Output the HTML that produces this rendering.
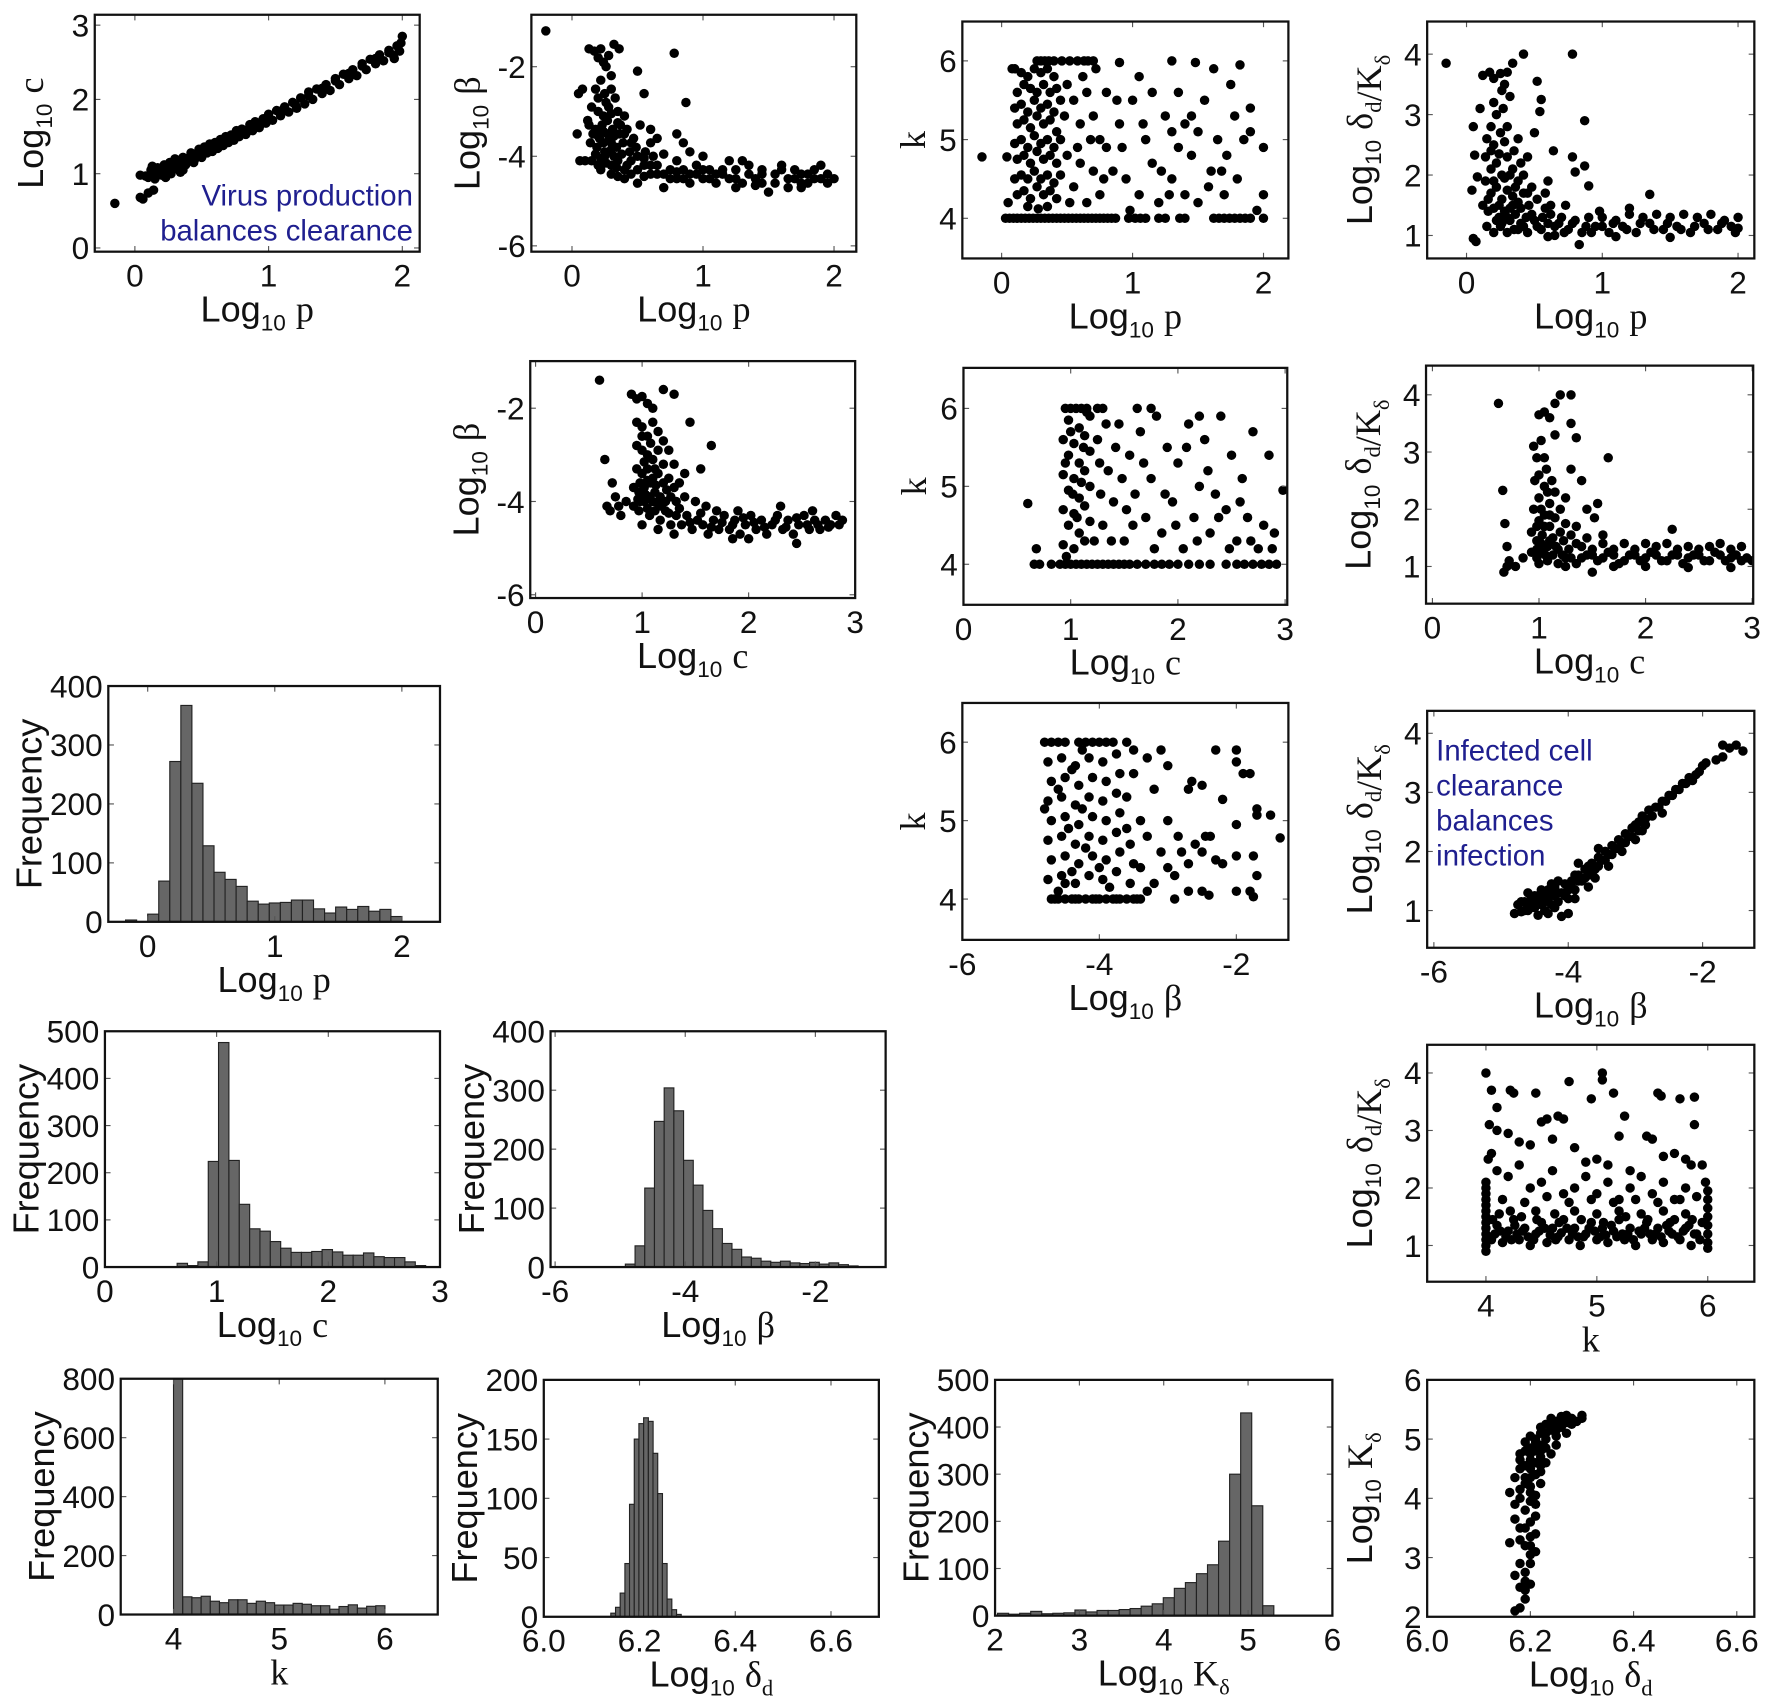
<!DOCTYPE html>
<html><head><meta charset="utf-8"><title>Parameter correlations</title>
<style>
html,body{margin:0;padding:0;background:#fff;}
svg{display:block;}
text{font-family:"Liberation Sans",sans-serif;fill:#111;}
</style></head>
<body>
<svg id="fig" xmlns="http://www.w3.org/2000/svg" width="1769" height="1706" viewBox="0 0 1568 1512"></svg>
<script>
// ---------- histogram data ----------
const h1Start = -0.174, h1Width = 0.087;
const h1Counts = [3,0,13,69,272,367,235,129,84,72,60,35,30,32,33,37,37,22,15,25,21,26,18,21,9];
const h2Start = 0.554, h2Width = 0.0927;
const h2Counts = [1,8,3,11,224,476,226,133,81,76,54,40,31,31,33,37,32,25,25,30,22,20,20,11,3];
const h3Start = -4.92, h3Width = 0.149;
const h3Counts = [5,36,134,247,304,265,181,139,96,65,40,30,17,15,10,8,10,7,6,8,5,7,4,2];
const h4Start = 4.0, h4Width = 0.087;
const h4Counts = [1000,60,57,62,45,40,50,50,38,45,40,32,32,38,35,30,30,18,27,33,22,28,30];
const h5Start = 6.14, h5Width = 0.0098;
const h5Counts = [3,8,20,45,95,150,163,168,165,138,104,45,15,6,2];
const h6Start = 2.03, h6Width = 0.131;
const h6Counts = [5,3,5,9,4,5,6,12,8,11,11,13,15,20,25,38,58,70,89,108,158,300,430,233,21];

// ---------- scatter data ----------
const s1 = [[-0.15,0.6],[0.04,0.68],[0.06,0.66],[0.1,0.74],[0.14,0.78],[0.04,0.98],[0.08,0.97],[0.1,0.95],[0.12,1.05],[0.15,0.93],[0.17,1.08],[0.2,0.98],[0.22,1.12],[0.24,1.0],[0.26,1.15],[0.28,1.05],[0.3,1.2],[0.32,1.08],[0.34,1.02],[0.36,1.22],[0.38,1.12],[0.4,1.18],[0.42,1.28],[0.44,1.15],[0.46,1.25],[0.48,1.33],[0.5,1.22],[0.52,1.36],[0.54,1.28],[0.56,1.4],[0.58,1.3],[0.6,1.42],[0.62,1.34],[0.64,1.46],[0.66,1.38],[0.68,1.5],[0.7,1.42],[0.72,1.52],[0.74,1.45],[0.76,1.58],[0.78,1.5],[0.8,1.6],[0.83,1.53],[0.86,1.66],[0.88,1.58],[0.9,1.7],[0.93,1.62],[0.96,1.74],[0.98,1.68],[1.0,1.8],[1.03,1.72],[1.06,1.85],[1.09,1.78],[1.12,1.9],[1.15,1.83],[1.18,1.96],[1.21,1.88],[1.24,2.02],[1.27,1.94],[1.3,2.1],[1.33,2.0],[1.36,2.14],[1.4,2.08],[1.43,2.2],[1.46,2.12],[1.5,2.28],[1.53,2.2],[1.56,2.34],[1.6,2.28],[1.63,2.4],[1.66,2.32],[1.7,2.48],[1.73,2.4],[1.76,2.54],[1.8,2.48],[1.83,2.6],[1.86,2.52],[1.9,2.66],[1.93,2.6],[1.96,2.72],[1.98,2.65],[2.0,2.85],[1.99,2.76],[1.94,2.55],[0.15,1.0],[0.18,1.02],[0.2,1.06],[0.25,1.08],[0.27,1.0],[0.3,1.12],[0.33,1.15],[0.35,1.1],[0.38,1.2],[0.41,1.22],[0.45,1.2],[0.5,1.3],[0.55,1.33],[0.6,1.37],[0.65,1.42],[0.7,1.47],[0.75,1.5],[0.8,1.55],[0.85,1.6],[0.9,1.65],[0.95,1.7],[1.0,1.75],[1.1,1.85],[1.2,1.93],[1.3,2.05],[1.4,2.15],[1.5,2.25],[1.6,2.35],[1.7,2.45],[1.8,2.55],[1.9,2.63],[0.23,0.95],[0.13,1.1],[0.36,1.05]];
const s2base = [[-0.2,-1.2],[0.05,-2.6],[0.08,-2.5],[0.04,-3.5],[0.06,-4.1],[0.1,-4.1],[0.12,-3.2],[0.13,-1.6],[0.17,-1.65],[0.2,-1.8],[0.22,-1.6],[0.24,-1.9],[0.26,-2.0],[0.28,-1.75],[0.32,-1.5],[0.36,-1.6],[0.78,-1.7],[0.87,-2.8],[0.5,-2.1],[0.55,-2.6],[0.3,-2.2],[0.22,-2.3],[0.18,-2.5],[0.25,-2.6],[0.33,-2.7],[0.15,-2.9],[0.2,-3.0],[0.28,-2.9],[0.35,-3.0],[0.4,-3.1],[0.13,-3.3],[0.18,-3.4],[0.23,-3.3],[0.27,-3.5],[0.31,-3.4],[0.36,-3.5],[0.42,-3.4],[0.47,-3.6],[0.52,-3.3],[0.6,-3.4],[0.65,-3.6],[0.8,-3.5],[0.85,-3.7],[0.14,-3.7],[0.19,-3.8],[0.24,-3.7],[0.29,-3.9],[0.34,-3.8],[0.39,-3.7],[0.44,-3.9],[0.49,-3.8],[0.56,-3.9],[0.62,-4.0],[0.7,-3.95],[0.9,-3.9],[0.15,-4.1],[0.2,-4.2],[0.25,-4.0],[0.3,-4.2],[0.35,-4.1],[0.4,-4.3],[0.45,-4.1],[0.5,-4.3],[0.55,-4.2],[0.6,-4.4],[0.65,-4.2],[0.7,-4.4],[0.75,-4.3],[0.8,-4.5],[0.85,-4.3],[0.9,-4.4],[0.95,-4.2],[1.0,-4.5],[1.05,-4.3],[1.1,-4.6],[1.15,-4.4],[1.2,-4.5],[1.25,-4.3],[1.3,-4.6],[1.35,-4.2],[1.4,-4.5],[1.45,-4.4],[1.5,-4.8],[1.55,-4.6],[1.6,-4.3],[1.65,-4.7],[1.7,-4.5],[1.75,-4.4],[1.8,-4.6],[1.85,-4.3],[1.9,-4.5],[1.95,-4.6],[2.0,-4.5],[1.3,-4.1],[1.6,-4.2],[1.9,-4.2],[1.2,-4.1],[0.5,-4.6],[0.7,-4.7],[0.9,-4.6],[1.0,-4.0],[0.3,-4.4],[0.4,-4.5],[0.22,-4.3],[0.27,-3.2],[0.21,-3.6],[0.3,-3.7],[0.37,-3.3],[0.25,-3.9],[0.32,-4.0],[0.45,-4.4],[1.25,-4.7],[1.75,-4.7],[1.45,-4.6],[1.1,-4.4],[0.8,-4.1],[0.6,-3.7]];
const s2extra = [[0.16,-3.5],[0.2,-3.55],[0.24,-3.45],[0.28,-3.65],[0.32,-3.55],[0.18,-3.95],[0.22,-4.05],[0.26,-4.15],[0.3,-3.85],[0.34,-4.25],[0.38,-3.95],[0.42,-4.2],[0.2,-2.7],[0.26,-2.8],[0.3,-2.5],[0.24,-3.1],[0.3,-3.05],[0.35,-3.25],[0.4,-3.5],[0.45,-3.7],[0.5,-4.0],[0.55,-4.05],[0.6,-4.2],[0.65,-4.4],[0.75,-4.5],[0.85,-4.5],[0.95,-4.4],[1.05,-4.5],[1.15,-4.3],[1.25,-4.5],[1.35,-4.4],[1.45,-4.3],[1.55,-4.4],[1.65,-4.5],[1.75,-4.6],[1.85,-4.5],[1.95,-4.4],[0.8,-4.35],[1.0,-4.3],[1.4,-4.65],[1.7,-4.3],[1.8,-4.4],[0.55,-4.45],[0.35,-4.45]];
const s2 = s2base.concat(s2extra);
const s3 = [[0.03,4],[0.06,4],[0.09,4],[0.12,4],[0.15,4],[0.18,4],[0.21,4],[0.24,4],[0.27,4],[0.3,4],[0.33,4],[0.36,4],[0.39,4],[0.42,4],[0.45,4],[0.48,4],[0.51,4],[0.54,4],[0.57,4],[0.6,4],[0.63,4],[0.66,4],[0.69,4],[0.72,4],[0.75,4],[0.78,4],[0.81,4],[0.84,4],[0.87,4],[0.97,4],[1.02,4],[1.06,4],[1.1,4],[1.2,4],[1.25,4],[1.36,4],[1.4,4],[1.62,4],[1.66,4],[1.7,4],[1.74,4],[1.78,4],[1.82,4],[1.86,4],[1.9,4],[2.0,4],[0.27,6],[0.3,6],[0.33,6],[0.36,6],[0.4,6],[0.46,6],[0.52,6],[0.58,6],[0.63,6],[0.66,6],[0.7,6],[0.9,5.98],[1.3,6],[1.48,5.98],[1.82,5.95],[0.1,5.9],[0.15,5.85],[0.2,5.8],[0.25,5.9],[0.3,5.85],[0.35,5.9],[0.4,5.8],[0.12,5.6],[0.17,5.7],[0.22,5.65],[0.27,5.6],[0.32,5.7],[0.37,5.6],[0.42,5.65],[0.1,5.4],[0.15,5.45],[0.2,5.35],[0.25,5.5],[0.3,5.4],[0.35,5.45],[0.4,5.35],[0.45,5.5],[0.12,5.2],[0.17,5.25],[0.22,5.15],[0.27,5.3],[0.32,5.2],[0.37,5.25],[0.42,5.1],[0.1,4.95],[0.15,5.0],[0.2,4.9],[0.25,5.05],[0.3,4.95],[0.35,5.0],[0.4,4.9],[0.45,5.0],[0.12,4.75],[0.17,4.8],[0.22,4.7],[0.27,4.85],[0.32,4.75],[0.37,4.8],[0.42,4.7],[0.1,4.5],[0.15,4.55],[0.2,4.5],[0.25,4.6],[0.3,4.5],[0.35,4.55],[0.4,4.45],[0.45,4.55],[0.12,4.3],[0.17,4.35],[0.22,4.25],[0.27,4.4],[0.32,4.3],[0.37,4.35],[0.42,4.25],[0.2,4.15],[0.28,4.12],[0.35,4.15],[0.05,4.2],[0.04,4.78],[-0.15,4.78],[0.08,5.9],[0.5,5.7],[0.55,5.5],[0.6,5.2],[0.65,5.6],[0.7,5.3],[0.75,5.0],[0.8,5.6],[0.85,4.6],[0.5,4.8],[0.55,4.4],[0.6,4.7],[0.65,4.2],[0.7,4.6],[0.75,4.3],[0.8,4.9],[0.9,5.2],[0.95,4.5],[1.0,5.5],[1.05,5.8],[1.05,4.3],[1.1,5.0],[1.15,4.7],[1.15,5.6],[1.2,4.2],[1.25,5.3],[1.3,4.5],[1.3,5.1],[1.35,4.9],[1.35,5.6],[1.4,4.3],[1.45,4.8],[1.5,5.1],[1.5,4.2],[1.55,5.5],[1.6,4.6],[1.62,5.9],[1.65,5.0],[1.7,4.3],[1.72,4.8],[1.75,5.7],[1.8,4.5],[1.85,5.0],[1.9,5.4],[1.95,4.1],[2.0,4.9],[2.0,4.3],[1.9,5.1],[1.22,4.6],[0.98,4.1],[0.88,5.5],[1.45,5.3],[1.58,4.4],[0.72,5.9],[0.62,5.8],[0.48,5.3],[0.52,4.2],[0.58,4.9],[0.68,5.0],[0.78,4.5],[1.08,5.2],[1.28,4.3],[1.4,5.2],[1.68,4.6],[1.78,5.3],[0.92,4.9]];
const s4base = [[-0.15,3.85],[0.05,0.95],[0.07,0.9],[0.04,1.75],[0.05,2.8],[0.06,2.33],[0.08,1.97],[0.1,3.1],[0.12,3.65],[0.17,3.7],[0.2,3.6],[0.25,3.68],[0.28,3.5],[0.3,3.7],[0.34,3.85],[0.42,4.0],[0.78,4.0],[0.52,3.55],[0.55,3.25],[0.54,3.05],[0.87,2.9],[0.64,2.4],[0.78,2.3],[0.87,2.15],[0.9,1.82],[0.8,2.05],[0.5,2.7],[0.45,2.3],[0.38,2.6],[0.32,3.3],[0.27,3.1],[0.22,3.0],[0.18,2.8],[0.15,2.6],[0.2,2.5],[0.25,2.7],[0.3,2.8],[0.35,2.4],[0.4,2.2],[0.14,2.3],[0.18,2.1],[0.22,2.2],[0.26,2.0],[0.3,2.3],[0.34,2.1],[0.38,1.9],[0.42,2.0],[0.48,1.8],[0.14,1.9],[0.18,1.7],[0.22,1.8],[0.26,1.6],[0.3,1.75],[0.34,1.65],[0.38,1.55],[0.42,1.7],[0.46,1.5],[0.52,1.6],[0.58,1.45],[0.12,1.5],[0.16,1.4],[0.2,1.45],[0.24,1.3],[0.28,1.4],[0.32,1.25],[0.36,1.35],[0.4,1.2],[0.44,1.3],[0.5,1.25],[0.56,1.3],[0.62,1.35],[0.68,1.2],[0.15,1.15],[0.2,1.05],[0.25,1.15],[0.3,1.05],[0.35,1.1],[0.45,1.05],[0.55,1.1],[0.65,1.0],[0.75,1.1],[0.85,1.05],[0.95,1.15],[1.05,1.05],[1.15,1.15],[1.25,1.05],[1.35,1.2],[1.45,1.1],[1.55,1.15],[1.65,1.05],[1.75,1.2],[1.85,1.1],[1.95,1.15],[2.0,1.3],[2.0,1.12],[0.7,1.3],[0.8,1.25],[0.9,1.3],[1.0,1.3],[1.1,1.25],[1.2,1.35],[1.3,1.3],[1.4,1.35],[1.5,1.3],[1.6,1.35],[1.7,1.3],[1.8,1.35],[1.9,1.25],[1.35,1.68],[0.83,0.85],[0.73,1.5],[0.6,1.9],[0.62,1.5],[0.98,1.4],[1.2,1.45],[1.5,0.97],[1.1,0.98],[0.6,0.98]];
const s4extra = [[0.16,1.6],[0.2,1.9],[0.24,1.5],[0.28,1.95],[0.32,1.45],[0.36,1.8],[0.4,1.45],[0.22,1.25],[0.26,1.2],[0.3,1.3],[0.34,1.5],[0.38,1.1],[0.42,1.15],[0.48,1.35],[0.52,1.15],[0.18,2.4],[0.24,2.35],[0.28,2.55],[0.32,2.0],[0.2,3.2],[0.26,3.4],[0.6,1.2],[0.65,1.15],[0.72,1.05],[0.78,1.2],[0.88,1.15],[0.92,1.05],[1.0,1.15],[1.08,1.2],[1.18,1.1],[1.28,1.2],[1.38,1.1],[1.48,1.2],[1.58,1.1],[1.68,1.15],[1.78,1.1],[1.88,1.2],[1.98,1.05],[0.58,1.7],[0.45,1.7]];
const s4 = s4base.concat(s4extra);
const s5base = [[0.6,-1.4],[0.65,-3.1],[0.67,-4.1],[0.7,-4.2],[0.72,-3.6],[0.75,-3.9],[0.78,-4.1],[0.8,-4.3],[0.9,-1.7],[0.95,-1.8],[1.0,-1.75],[1.05,-1.9],[1.1,-2.0],[1.2,-1.6],[1.3,-1.7],[1.45,-2.3],[1.65,-2.8],[0.95,-2.3],[1.0,-2.4],[1.05,-2.6],[1.1,-2.3],[1.15,-2.5],[1.2,-2.7],[1.25,-2.9],[0.95,-2.8],[1.0,-2.9],[1.05,-3.0],[1.1,-3.1],[1.15,-2.9],[1.3,-3.2],[1.4,-3.4],[1.55,-3.3],[0.95,-3.3],[1.0,-3.4],[1.05,-3.3],[1.1,-3.5],[1.15,-3.4],[1.2,-3.6],[1.25,-3.5],[1.3,-3.7],[1.35,-3.6],[0.92,-3.7],[0.97,-3.8],[1.02,-3.7],[1.07,-3.9],[1.12,-3.8],[1.17,-3.9],[1.22,-4.0],[1.27,-3.9],[1.32,-4.0],[1.4,-3.9],[1.5,-4.0],[1.6,-4.1],[0.92,-4.1],[0.97,-4.2],[1.02,-4.0],[1.07,-4.3],[1.12,-4.2],[1.17,-4.4],[1.22,-4.2],[1.27,-4.5],[1.32,-4.3],[1.37,-4.5],[1.42,-4.3],[1.47,-4.6],[1.52,-4.4],[1.57,-4.5],[1.62,-4.7],[1.67,-4.4],[1.72,-4.6],[1.77,-4.3],[1.82,-4.6],[1.87,-4.4],[1.92,-4.7],[1.97,-4.5],[2.02,-4.3],[2.07,-4.6],[2.12,-4.4],[2.17,-4.7],[2.22,-4.5],[2.27,-4.3],[2.32,-4.6],[2.37,-4.4],[2.42,-4.7],[2.47,-4.5],[2.52,-4.3],[2.57,-4.6],[2.62,-4.4],[2.67,-4.6],[2.72,-4.4],[2.77,-4.5],[2.82,-4.3],[2.88,-4.4],[2.3,-4.1],[2.6,-4.2],[1.9,-4.2],[1.7,-4.2],[1.85,-4.8],[2.0,-4.8],[1.3,-4.7],[1.15,-4.6],[1.0,-4.5],[2.45,-4.9],[0.85,-4.0],[1.05,-3.55],[1.1,-4.0],[0.98,-4.0]];
const s5extra = [[0.98,-3.6],[1.03,-3.85],[1.08,-3.6],[1.13,-3.65],[1.18,-4.1],[1.23,-3.75],[0.96,-3.95],[1.05,-4.15],[1.15,-4.05],[1.25,-4.25],[1.35,-4.15],[1.45,-4.45],[1.55,-4.25],[1.65,-4.55],[1.75,-4.45],[1.85,-4.5],[1.95,-4.35],[2.05,-4.45],[2.15,-4.55],[2.25,-4.4],[2.35,-4.55],[2.45,-4.35],[2.55,-4.5],[2.65,-4.5],[2.75,-4.55],[2.85,-4.5],[1.02,-3.15],[1.08,-2.75],[1.0,-2.6],[1.12,-3.3],[1.2,-3.2]];
const s5 = s5base.concat(s5extra);
const s6 = [[0.6,4.78],[0.68,4.2],[0.66,4.0],[0.71,4.0],[0.82,4.0],[0.9,4.0],[0.95,4.0],[1.0,4.0],[1.05,4.0],[1.1,4.0],[1.15,4.0],[1.2,4.0],[1.25,4.0],[1.3,4.0],[1.35,4.0],[1.4,4.0],[1.45,4.0],[1.5,4.0],[1.55,4.0],[1.62,4.0],[1.7,4.0],[1.78,4.0],[1.85,4.0],[1.92,4.0],[2.0,4.0],[2.1,4.0],[2.2,4.0],[2.3,4.0],[2.45,4.0],[2.55,4.0],[2.62,4.0],[2.7,4.0],[2.78,4.0],[2.85,4.0],[2.92,4.0],[0.93,4.25],[0.98,4.5],[1.03,4.2],[1.08,4.4],[1.13,4.3],[1.18,4.55],[0.93,4.7],[0.98,4.95],[1.03,4.65],[1.08,4.85],[1.13,4.75],[1.18,5.0],[0.93,5.15],[0.98,5.4],[1.03,5.1],[1.08,5.3],[1.13,5.2],[1.18,5.45],[0.93,5.6],[0.98,5.85],[1.03,5.55],[1.08,5.75],[1.13,5.65],[1.18,5.9],[0.95,6.0],[1.0,6.0],[1.05,6.0],[1.1,6.0],[1.15,6.0],[1.25,6.0],[1.3,6.0],[0.96,4.1],[1.06,4.6],[1.1,5.05],[1.0,5.7],[0.95,5.3],[1.15,5.95],[1.02,4.9],[1.12,5.5],[1.25,5.6],[1.3,4.5],[1.35,5.2],[1.4,4.8],[1.45,5.8],[1.5,4.3],[1.55,5.4],[1.6,4.9],[1.65,5.7],[1.7,4.6],[1.75,5.1],[1.8,5.9],[1.85,4.4],[1.9,5.5],[1.95,4.8],[2.0,5.3],[2.05,4.2],[2.1,5.8],[2.15,4.6],[2.2,5.0],[2.25,5.6],[2.3,4.4],[2.35,4.9],[2.4,5.9],[2.45,4.7],[2.5,5.4],[2.55,4.3],[2.6,5.1],[2.65,4.6],[2.7,5.7],[2.75,4.2],[2.8,4.5],[2.85,5.4],[2.9,4.4],[2.98,4.95],[1.28,4.9],[1.38,4.3],[1.48,5.1],[1.58,4.5],[1.68,5.3],[1.78,4.2],[1.88,4.9],[1.98,4.5],[2.08,5.5],[2.18,4.3],[2.28,5.2],[2.38,4.6],[2.48,4.2],[2.58,4.8],[2.68,4.3],[2.88,4.2],[1.33,5.8],[1.62,6.0],[1.75,6.0],[2.2,5.9],[1.42,5.5],[1.52,4.7],[1.22,4.3],[1.27,5.3]];
const s7base = [[0.62,3.85],[0.66,2.33],[0.68,1.75],[0.7,1.35],[0.72,1.1],[0.67,0.9],[0.7,1.0],[0.78,1.0],[0.85,1.15],[0.95,3.1],[1.0,3.65],[1.05,3.7],[1.1,3.6],[1.15,3.85],[1.2,4.0],[1.3,4.0],[1.35,3.25],[1.3,3.5],[1.65,2.9],[1.55,2.1],[1.52,1.85],[1.4,2.5],[1.45,2.0],[1.3,2.7],[1.15,3.3],[0.98,2.9],[1.02,3.2],[1.07,2.7],[1.12,2.5],[0.96,2.5],[1.0,2.2],[1.05,2.4],[1.1,2.1],[1.15,2.3],[1.2,2.0],[1.25,2.2],[0.95,2.0],[1.0,1.8],[1.05,1.9],[1.1,1.7],[1.15,1.85],[1.2,1.6],[1.25,1.75],[1.3,1.55],[1.35,1.7],[0.93,1.6],[0.98,1.45],[1.03,1.55],[1.08,1.35],[1.13,1.5],[1.18,1.3],[1.23,1.45],[1.28,1.3],[0.93,1.25],[0.98,1.15],[1.03,1.25],[1.08,1.1],[1.13,1.2],[1.18,1.05],[1.25,1.15],[1.35,1.05],[1.45,1.2],[1.55,1.1],[1.65,1.25],[1.75,1.05],[1.85,1.2],[1.95,1.1],[2.05,1.25],[2.15,1.1],[2.25,1.2],[2.35,1.05],[2.45,1.2],[2.55,1.1],[2.65,1.25],[2.75,1.1],[2.85,1.2],[2.95,1.15],[3.0,1.1],[1.4,1.35],[1.5,1.3],[1.6,1.4],[1.7,1.3],[1.8,1.4],[1.9,1.3],[2.0,1.4],[2.1,1.35],[2.2,1.4],[2.3,1.3],[2.4,1.35],[2.5,1.3],[2.6,1.35],[2.7,1.4],[2.8,1.3],[2.9,1.35],[2.25,1.65],[1.5,0.9],[1.7,1.0],[2.0,1.0],[2.4,0.98],[2.8,0.98],[1.35,1.4],[1.6,1.55],[1.45,1.5],[1.25,1.0]];
const s7extra = [[0.98,1.3],[1.02,1.4],[1.06,1.2],[1.1,1.45],[1.16,1.35],[1.22,1.2],[1.0,1.05],[1.05,1.7],[1.1,1.9],[0.98,1.7],[1.02,2.0],[1.08,2.3],[1.0,2.6],[1.05,2.9],[1.3,1.15],[1.4,1.15],[1.5,1.2],[1.6,1.15],[1.7,1.2],[1.8,1.1],[1.9,1.2],[2.0,1.15],[2.1,1.2],[2.2,1.1],[2.3,1.2],[2.4,1.15],[2.5,1.2],[2.6,1.1],[2.7,1.2],[2.8,1.15],[2.9,1.1]];
const s7 = s7base.concat(s7extra);
const s8 = [[-4.7,4],[-4.6,4],[-4.5,4],[-4.4,4],[-4.3,4],[-4.2,4],[-4.1,4],[-4.0,4],[-3.9,4],[-3.8,4],[-3.7,4],[-3.6,4],[-3.5,4],[-3.4,4],[-4.65,4],[-4.35,4],[-4.05,4],[-3.75,4],[-3.45,4],[-4.8,6],[-4.7,6],[-4.6,6],[-4.5,6],[-4.3,6],[-4.2,6],[-4.1,6],[-4.0,6],[-3.9,6],[-3.8,6],[-3.6,6],[-4.75,4.25],[-4.55,4.3],[-4.35,4.2],[-4.15,4.3],[-3.95,4.25],[-3.75,4.35],[-3.55,4.2],[-4.7,4.5],[-4.5,4.55],[-4.3,4.45],[-4.1,4.55],[-3.9,4.5],[-3.7,4.6],[-3.5,4.45],[-4.75,4.75],[-4.55,4.8],[-4.35,4.7],[-4.15,4.8],[-3.95,4.75],[-3.75,4.85],[-3.55,4.7],[-4.7,5.0],[-4.5,5.05],[-4.3,4.95],[-4.1,5.05],[-3.9,5.0],[-3.7,5.1],[-4.8,5.15],[-4.75,5.25],[-4.55,5.3],[-4.35,5.2],[-4.15,5.3],[-3.95,5.25],[-3.75,5.35],[-4.7,5.5],[-4.5,5.55],[-4.3,5.45],[-4.1,5.55],[-3.9,5.5],[-3.7,5.6],[-4.75,5.75],[-4.55,5.8],[-4.35,5.7],[-4.15,5.8],[-3.95,5.75],[-3.75,5.85],[-4.6,4.1],[-4.4,4.35],[-4.2,4.65],[-4.45,4.9],[-4.25,5.15],[-4.6,5.4],[-4.4,5.65],[-4.25,5.9],[-4.5,4.2],[-4.0,4.4],[-3.85,4.15],[-2.3,5.9],[-2.0,5.9],[-2.0,5.75],[-1.9,5.6],[-1.8,5.6],[-1.7,5.15],[-1.7,5.07],[-1.5,5.07],[-1.36,4.78],[-2.0,4.95],[-2.2,5.27],[-2.45,4.8],[-2.38,4.8],[-2.5,4.6],[-2.3,4.5],[-2.2,4.45],[-2.0,4.55],[-1.75,4.55],[-1.7,4.3],[-2.0,4.1],[-1.8,4.1],[-1.75,4.03],[-2.4,4.05],[-2.5,4.1],[-2.7,4.1],[-2.9,4.3],[-2.7,4.45],[-2.8,4.6],[-2.6,4.7],[-2.65,5.5],[-2.7,5.4],[-2.5,5.45],[-3.1,5.9],[-3.3,5.8],[-3.0,5.7],[-3.2,5.4],[-3.0,5.0],[-3.1,4.6],[-3.2,4.2],[-3.0,4.4],[-2.9,4.0],[-3.3,4.1],[-3.4,4.4],[-3.4,5.0],[-3.5,5.6],[-3.3,4.8],[-2.85,4.8],[-3.6,5.3],[-3.5,5.9],[-3.6,4.9]];
const s9base = [[-4.8,0.95],[-4.75,1.1],[-4.7,0.98],[-4.65,1.15],[-4.6,1.0],[-4.55,1.2],[-4.5,1.05],[-4.45,0.92],[-4.45,1.25],[-4.4,1.1],[-4.35,1.0],[-4.3,1.2],[-4.25,1.3],[-4.2,1.05],[-4.2,1.4],[-4.15,1.15],[-4.1,1.3],[-4.1,0.9],[-4.05,1.45],[-4.0,1.2],[-4.0,1.35],[-3.95,1.5],[-3.9,1.35],[-3.85,1.6],[-3.8,1.5],[-3.75,1.7],[-3.7,1.6],[-3.65,1.8],[-3.6,1.7],[-3.55,1.9],[-3.5,1.85],[-3.45,2.0],[-3.4,1.95],[-3.35,2.1],[-3.3,2.05],[-3.25,2.2],[-3.2,2.15],[-3.15,2.3],[-3.1,2.25],[-3.05,2.4],[-3.0,2.45],[-2.95,2.5],[-2.9,2.6],[-2.85,2.55],[-2.8,2.7],[-2.7,2.75],[-2.6,2.85],[-2.5,2.95],[-2.4,3.05],[-2.3,3.15],[-2.2,3.25],[-2.1,3.3],[-2.0,3.45],[-1.95,3.5],[-1.8,3.55],[-1.7,3.6],[-1.7,3.8],[-1.6,3.75],[-1.5,3.8],[-1.4,3.7],[-4.6,1.3],[-4.4,1.35],[-4.3,0.95],[-4.5,1.15],[-4.25,1.1],[-4.0,0.95],[-3.9,1.2],[-3.7,1.4],[-3.6,1.55],[-3.4,1.75],[-3.2,2.0],[-3.0,2.2],[-2.9,2.35],[-2.6,2.65],[-4.15,1.5],[-3.85,1.8],[-3.55,2.05]];
const s9extra = [[-4.7,1.15],[-4.6,1.1],[-4.55,1.05],[-4.5,1.25],[-4.4,1.2],[-4.35,1.15],[-4.3,1.35],[-4.2,1.25],[-4.15,1.3],[-4.05,1.25],[-3.95,1.4],[-3.85,1.5],[-3.75,1.55],[-3.65,1.65],[-3.55,1.75],[-3.45,1.85],[-3.35,1.95],[-3.25,2.05],[-3.15,2.15],[-3.05,2.25],[-2.95,2.35],[-2.85,2.45],[-2.75,2.6],[-2.65,2.75],[-2.55,2.85],[-2.45,2.95],[-2.35,3.05],[-2.25,3.15],[-2.15,3.2],[-2.05,3.35],[-4.65,1.0],[-4.35,1.3],[-4.25,1.45],[-3.9,1.6],[-3.7,1.75]];
const s9 = s9base.concat(s9extra);
const s10base = [[4,0.9],[4,1.0],[4,1.1],[4,1.2],[4,1.3],[4,1.4],[4,1.5],[4,1.6],[4,1.7],[4,1.8],[4,1.9],[4,2.0],[4,2.1],[4,4.0],[4.03,3.1],[4.02,2.5],[4.05,2.6],[6,0.95],[6,1.05],[6,1.2],[6,1.35],[6,1.5],[6,1.65],[6,1.8],[6,1.95],[5.98,2.1],[5.95,2.4],[4.05,1.1],[4.1,1.35],[4.15,1.05],[4.2,1.25],[4.25,1.45],[4.3,1.1],[4.35,1.3],[4.4,1.0],[4.45,1.2],[4.5,1.4],[4.55,1.05],[4.6,1.3],[4.65,1.15],[4.7,1.45],[4.75,1.1],[4.8,1.3],[4.85,1.0],[4.9,1.2],[4.95,1.4],[5.0,1.1],[5.05,1.3],[5.1,1.05],[5.15,1.25],[5.2,1.45],[5.25,1.1],[5.3,1.3],[5.35,1.0],[5.4,1.2],[5.45,1.4],[5.5,1.1],[5.55,1.3],[5.6,1.05],[5.65,1.25],[5.7,1.45],[5.75,1.1],[5.8,1.3],[5.85,1.0],[5.9,1.2],[5.95,1.4],[4.08,1.2],[4.18,1.15],[4.28,1.2],[4.38,1.15],[4.48,1.25],[4.58,1.18],[4.68,1.22],[4.78,1.2],[4.88,1.15],[4.98,1.25],[5.08,1.18],[5.18,1.15],[5.28,1.2],[5.38,1.25],[5.48,1.2],[5.58,1.15],[5.68,1.2],[5.78,1.25],[5.88,1.2],[4.12,1.55],[4.22,1.6],[4.32,1.5],[4.45,1.6],[4.62,1.55],[4.8,1.6],[5.0,1.55],[5.2,1.6],[5.4,1.55],[5.6,1.6],[5.8,1.55],[4.05,3.7],[4.1,3.4],[4.22,3.7],[4.25,3.65],[4.45,3.65],[4.75,3.85],[4.95,3.55],[5.05,4.0],[5.05,3.88],[5.15,3.65],[5.55,3.65],[5.58,3.6],[5.75,3.55],[5.88,3.58],[5.88,3.1],[4.1,3.0],[4.2,2.95],[4.3,2.8],[4.4,2.75],[4.5,3.15],[4.55,3.2],[4.6,2.85],[4.65,3.25],[4.7,3.2],[4.8,2.7],[4.9,2.45],[5.0,2.5],[5.1,2.4],[5.25,3.25],[5.2,2.9],[5.3,2.3],[5.45,2.9],[5.5,2.85],[5.6,2.55],[5.7,2.6],[5.8,2.5],[5.85,2.4],[4.1,2.3],[4.2,2.2],[4.3,2.4],[4.4,2.0],[4.5,2.1],[4.6,2.3],[4.7,1.9],[4.8,2.0],[4.9,2.2],[5.0,1.9],[5.1,2.1],[5.2,1.8],[5.3,2.0],[5.4,2.2],[5.5,1.9],[5.6,2.1],[5.7,1.8],[5.8,2.0],[5.9,1.85],[4.15,1.8],[4.35,1.75],[4.55,1.85],[4.75,1.75],[4.95,1.8],[5.15,1.75],[5.35,1.8],[5.55,1.75],[5.75,1.8]];
const s10extra = [[4.02,1.15],[4.13,1.25],[4.23,1.1],[4.33,1.25],[4.43,1.1],[4.53,1.3],[4.63,1.1],[4.73,1.3],[4.83,1.15],[4.93,1.3],[5.03,1.15],[5.13,1.35],[5.23,1.2],[5.33,1.1],[5.43,1.3],[5.53,1.2],[5.63,1.35],[5.73,1.15],[5.83,1.35],[5.93,1.1],[4.06,1.45],[4.26,1.35],[4.46,1.45],[4.66,1.4],[4.86,1.45],[5.06,1.4],[5.26,1.5],[5.46,1.45],[5.66,1.4],[5.86,1.45]];
const s10 = s10base.concat(s10extra);
const s11base = [[6.17,2.1],[6.18,2.15],[6.19,2.3],[6.18,2.5],[6.19,2.45],[6.2,2.55],[6.17,2.7],[6.19,2.75],[6.2,2.9],[6.18,2.9],[6.2,3.05],[6.21,3.1],[6.16,3.25],[6.19,3.2],[6.2,3.35],[6.21,3.4],[6.18,3.5],[6.2,3.6],[6.17,3.65],[6.21,3.7],[6.19,3.8],[6.17,3.9],[6.2,3.95],[6.21,4.05],[6.16,4.1],[6.18,4.15],[6.2,4.2],[6.22,4.25],[6.17,4.35],[6.19,4.35],[6.21,4.4],[6.18,4.5],[6.2,4.5],[6.22,4.55],[6.18,4.65],[6.2,4.65],[6.22,4.7],[6.24,4.75],[6.19,4.8],[6.21,4.8],[6.23,4.85],[6.25,4.9],[6.19,4.95],[6.21,4.95],[6.23,5.0],[6.25,5.05],[6.27,5.1],[6.2,5.05],[6.22,5.1],[6.24,5.15],[6.26,5.2],[6.28,5.25],[6.22,5.2],[6.24,5.25],[6.26,5.3],[6.28,5.35],[6.3,5.35],[6.24,5.35],[6.26,5.38],[6.29,5.3],[6.3,5.4],[6.27,5.4],[6.2,4.35],[6.23,4.6],[6.2,4.85],[6.18,4.75],[6.22,4.9],[6.19,4.25],[6.18,4.0]];
const s11extra = [[6.19,4.55],[6.21,4.6],[6.2,4.75],[6.22,4.8],[6.21,5.0],[6.23,5.1],[6.25,5.15],[6.23,5.25],[6.25,5.3],[6.27,5.28],[6.22,4.45],[6.2,4.1],[6.19,3.5],[6.21,3.9],[6.18,3.3],[6.2,3.2],[6.19,2.6]];
const s11 = s11base.concat(s11extra);

// ---------- tick labels ----------
const tP = [0,1,2], tC = [0,1,2,3], tB = [-6,-4,-2], tK = [4,5,6], tR = [1,2,3,4];
const tD = [6.0,6.2,6.4,6.6], tKd = [2,3,4,5,6];

// ---------- label markup ----------
const SUB = (s)=>'<tspan font-size="20" dy="8">'+s+'</tspan><tspan dy="-8"> </tspan>';
const SER = (s)=>'<tspan font-family="Liberation Serif, serif">'+s+'</tspan>';
const SSUB = (s)=>'<tspan font-family="Liberation Serif, serif" font-size="20" dy="8">'+s+'</tspan><tspan dy="-8"></tspan>';
const L = {
  p:'Log'+SUB('10')+SER('p'), c:'Log'+SUB('10')+SER('c'), b:'Log'+SUB('10')+SER('β'),
  k:SER('k'), r:'Log'+SUB('10')+SER('δ')+SSUB('d')+SER('/K')+SSUB('δ'),
  d:'Log'+SUB('10')+SER('δ')+SSUB('d'), K:'Log'+SUB('10')+SER('K')+SSUB('δ'), f:'Frequency'
};
const fmt1 = v=>v.toFixed(1);

const panels = [
 {name:'scatter-p-vs-c',x0:84,x1:372,y0:13,y1:223,xmin:-0.30,xmax:2.13,ymin:-0.05,ymax:3.14,xt:tP,yt:tC,xl:L.p,yl:L.c,yo:57,pts:s1},
 {name:'scatter-p-vs-beta',x0:471,x1:759,y0:13,y1:223,xmin:-0.31,xmax:2.17,ymin:-6.13,ymax:-0.84,xt:tP,yt:tB,xl:L.p,yl:L.b,yo:57,pts:s2},
 {name:'scatter-p-vs-k',x0:853,x1:1142,y0:19,y1:229,xmin:-0.30,xmax:2.19,ymin:3.49,ymax:6.5,xt:tP,yt:tK,xl:L.p,yl:L.k,yo:44,pts:s3},
 {name:'scatter-p-vs-ratio',x0:1265,x1:1555,y0:19,y1:229,xmin:-0.29,xmax:2.12,ymin:0.62,ymax:4.54,xt:tP,yt:tR,xl:L.p,yl:L.r,yo:60,pts:s4},
 {name:'scatter-c-vs-beta',x0:470,x1:758,y0:320,y1:530,xmin:-0.05,xmax:3.0,ymin:-6.07,ymax:-0.99,xt:tC,yt:tB,xl:L.c,yl:L.b,yo:57,pts:s5},
 {name:'scatter-c-vs-k',x0:854,x1:1141,y0:326,y1:536,xmin:0,xmax:3.02,ymin:3.48,ymax:6.52,xt:tC,yt:tK,xl:L.c,yl:L.k,yo:44,pts:s6},
 {name:'scatter-c-vs-ratio',x0:1264,x1:1554,y0:324,y1:535,xmin:-0.06,xmax:3.01,ymin:0.35,ymax:4.51,xt:tC,yt:tR,xl:L.c,yl:L.r,yo:60,pts:s7},
 {name:'scatter-beta-vs-k',x0:853,x1:1142,y0:623,y1:833,xmin:-6.0,xmax:-1.24,ymin:3.48,ymax:6.5,xt:tB,yt:tK,xl:L.b,yl:L.k,yo:44,pts:s8},
 {name:'scatter-beta-vs-ratio',x0:1265,x1:1555,y0:630,y1:840,xmin:-6.1,xmax:-1.23,ymin:0.37,ymax:4.38,xt:tB,yt:tR,xl:L.b,yl:L.r,yo:60,pts:s9},
 {name:'scatter-k-vs-ratio',x0:1265,x1:1555,y0:926,y1:1136,xmin:3.47,xmax:6.42,ymin:0.37,ymax:4.49,xt:tK,yt:tR,xl:L.k,yl:L.r,yo:60,pts:s10},
 {name:'scatter-deltad-vs-kdelta',x0:1265,x1:1555,y0:1223,y1:1433,xmin:6.0,xmax:6.634,ymin:2,ymax:6,xt:tD,yt:tKd,xl:L.d,yl:L.K,yo:60,pts:s11,xf:fmt1},
 {name:'hist-log-p',x0:96,x1:390,y0:608,y1:817,xmin:-0.31,xmax:2.30,ymin:0,ymax:400,xt:tP,yt:[0,100,200,300,400],xl:L.p,yl:L.f,yo:70,hs:h1Start,hw:h1Width,hc:h1Counts},
 {name:'hist-log-c',x0:93,x1:390,y0:914,y1:1123,xmin:0,xmax:3,ymin:0,ymax:500,xt:tC,yt:[0,100,200,300,400,500],xl:L.c,yl:L.f,yo:70,hs:h2Start,hw:h2Width,hc:h2Counts},
 {name:'hist-log-beta',x0:488,x1:785,y0:914,y1:1123,xmin:-6.07,xmax:-0.92,ymin:0,ymax:400,xt:tB,yt:[0,100,200,300,400],xl:L.b,yl:L.f,yo:70,hs:h3Start,hw:h3Width,hc:h3Counts},
 {name:'hist-k',x0:107,x1:388,y0:1222,y1:1431,xmin:3.5,xmax:6.5,ymin:0,ymax:800,xt:tK,yt:[0,200,400,600,800],xl:L.k,yl:L.f,yo:70,hs:h4Start,hw:h4Width,hc:h4Counts},
 {name:'hist-log-deltad',x0:482,x1:779,y0:1223,y1:1433,xmin:6.0,xmax:6.7,ymin:0,ymax:200,xt:tD,yt:[0,50,100,150,200],xl:L.d,yl:L.f,yo:70,hs:h5Start,hw:h5Width,hc:h5Counts,xf:fmt1},
 {name:'hist-log-kdelta',x0:882,x1:1181,y0:1223,y1:1432,xmin:2,xmax:6,ymin:0,ymax:500,xt:tKd,yt:[0,100,200,300,400,500],xl:L.K,yl:L.f,yo:70,hs:h6Start,hw:h6Width,hc:h6Counts}
];

const NS='http://www.w3.org/2000/svg';
const svg=document.getElementById('fig');
function el(tag,attrs,parent){const e=document.createElementNS(NS,tag);for(const k in attrs)e.setAttribute(k,attrs[k]);parent.appendChild(e);return e;}

panels.forEach((P,idx)=>{
  const sx=v=>P.x0+(v-P.xmin)/(P.xmax-P.xmin)*(P.x1-P.x0);
  const sy=v=>P.y1-(v-P.ymin)/(P.ymax-P.ymin)*(P.y1-P.y0);
  const g=el('g',{},svg);
  
  
  const cp=el('clipPath',{id:'cp'+idx},g);
  el('rect',{x:P.x0,y:P.y0,width:P.x1-P.x0,height:P.y1-P.y0},cp);
  const marks=el('g',{'clip-path':'url(#cp'+idx+')'},g);
  
  
  if(P.pts){
    P.pts.forEach(d=>{
      const c=el('circle',{cx:sx(d[0]).toFixed(1),cy:sy(d[1]).toFixed(1),r:4.2,fill:'#000'},marks);
      
      
    });
  }
  if(P.hc){
    P.hc.forEach((v,i)=>{
      const xa=sx(P.hs+i*P.hw), xb=sx(P.hs+(i+1)*P.hw), yt=sy(v), yb=sy(0);
      const r=el('rect',{x:xa.toFixed(1),y:yt.toFixed(1),width:(xb-xa).toFixed(1),height:Math.max(0,yb-yt).toFixed(1),fill:'#666',stroke:'#222','stroke-width':1},marks);
      
      
    });
  }
  P.xt.forEach(v=>{
    const x=sx(v);
    el('line',{x1:x,x2:x,y1:P.y1,y2:P.y1-5,stroke:'#555','stroke-width':1},g);
    el('line',{x1:x,x2:x,y1:P.y0,y2:P.y0+5,stroke:'#555','stroke-width':1},g);
    const t=el('text',{x:x,y:P.y1+31,'text-anchor':'middle','font-size':28},g);
    t.textContent=P.xf?P.xf(v):String(v);
    
    
  });
  P.yt.forEach(v=>{
    const y=sy(v);
    el('line',{x1:P.x0,x2:P.x0+5,y1:y,y2:y,stroke:'#555','stroke-width':1},g);
    el('line',{x1:P.x1,x2:P.x1-5,y1:y,y2:y,stroke:'#555','stroke-width':1},g);
    const t=el('text',{x:P.x0-5,y:y+10,'text-anchor':'end','font-size':28},g);
    t.textContent=String(v);
    
    
  });
  const fr=el('rect',{x:P.x0,y:P.y0,width:P.x1-P.x0,height:P.y1-P.y0,fill:'none',stroke:'#111','stroke-width':2},g);
  
  
  const xl=el('text',{x:(P.x0+P.x1)/2,y:P.y1+62,'text-anchor':'middle','font-size':32},g);
  xl.innerHTML=P.xl;
  
  
  const cx=P.x0-P.yo, cy=(P.y0+P.y1)/2;
  const yl=el('text',{x:cx,y:cy,'text-anchor':'middle','font-size':32,transform:'rotate(-90 '+cx+' '+cy+') translate(0 11)'},g);
  yl.innerHTML=P.yl;
  
  
});

const a1=el('text',{x:366,y:182,'text-anchor':'end','font-size':26,fill:'#1f1f8f'},svg);
a1.innerHTML='<tspan x="366" style="fill:#1f1f8f">Virus production</tspan><tspan x="366" dy="31" style="fill:#1f1f8f">balances clearance</tspan>';


const a2=el('text',{x:1273,y:674,'font-size':26},svg);
a2.innerHTML='<tspan x="1273" style="fill:#1f1f8f">Infected cell</tspan><tspan x="1273" dy="31" style="fill:#1f1f8f">clearance</tspan><tspan x="1273" dy="31" style="fill:#1f1f8f">balances</tspan><tspan x="1273" dy="31" style="fill:#1f1f8f">infection</tspan>';


</script>
</body></html>
